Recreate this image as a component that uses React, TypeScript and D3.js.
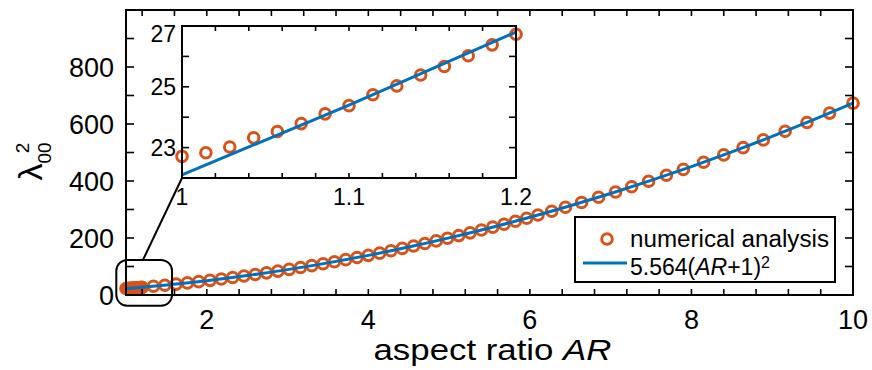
import React, { useEffect, useRef } from 'react';
import * as d3 from 'd3';

// numerical analysis, fine sweep near AR = 1 (shown in the inset)
const AR_INSET = [1, 1.0143, 1.0286, 1.0429, 1.0571, 1.0714, 1.0857, 1.1, 1.1143, 1.1286, 1.1429, 1.1571, 1.1714, 1.1857, 1.2];
const L_INSET = [22.71, 22.83, 23.02, 23.32, 23.53, 23.79, 24.11, 24.38, 24.74, 25.03, 25.39, 25.67, 26.02, 26.38, 26.73];

// numerical analysis, coarse sweep
const AR_MAIN = [1.34, 1.48, 1.62, 1.76, 1.9, 2.04, 2.18, 2.32, 2.46, 2.6, 2.74, 2.88, 3.02, 3.16, 3.3, 3.44, 3.58, 3.72, 3.86, 4.0,
  4.14, 4.28, 4.42, 4.56, 4.7, 4.84, 4.98, 5.12, 5.26, 5.4, 5.54, 5.68, 5.82, 5.96, 6.1, 6.27, 6.44, 6.64, 6.85, 7.06,
  7.26, 7.47, 7.69, 7.9, 8.15, 8.4, 8.64, 8.89, 9.16, 9.43, 9.71, 10];
const L_MAIN = [30.5, 34.3, 38.2, 42.4, 46.8, 51.4, 56.3, 61.3, 66.6, 72.1, 77.8, 83.8, 89.9, 96.3, 102.9, 109.7, 116.7, 124, 131.4, 139.1,
  147, 155.1, 163.5, 172, 180.8, 189.8, 199, 208.4, 218, 227.9, 238, 248.3, 258.8, 269.5, 280.5, 294, 308, 324.8, 342.9, 361.5,
  379.6, 399.2, 420.2, 440.7, 465.8, 491.6, 517.1, 544.2, 574.4, 605.3, 638.2, 673.2];

// fitted curve 5.564(AR+1)^2
const FIT_AR = [1, 1.1, 1.2, 1.5, 2, 2.5, 3, 3.5, 4, 4.5, 5, 5.5, 6, 6.5, 7, 7.5, 8, 8.5, 9, 9.5, 10];
const FIT_L = [22.1, 24.4, 26.8, 34.8, 50.1, 68.2, 89.0, 112.7, 139.1, 168.3, 200.3, 235.1, 272.6, 313.0, 356.1, 402.0, 450.7, 502.2, 556.4, 613.5, 673.2];

// axis ticks
const X_MAJOR = [2, 4, 6, 8, 10];
const Y_MAJOR = [0, 200, 400, 600, 800];
const XI_MAJOR = [1, 1.1, 1.2];
const YI_MAJOR = [23, 25, 27];

// zoom box around the inset region (data units) and where the connector leaves it
const ZOOM_AR = [0.88, 1.57];
const ZOOM_L = [-38, 123];
const LINK_AR = 1.21;

const ORANGE = '#D95319';
const BLUE = '#0072BD';
const FONT = '"Liberation Sans", Arial, Helvetica, sans-serif';
const MARK_R = 5.3;
const MARK_W = 3;

type Pt = { ar: number; l: number };

export default function App() {
  const svgRef = useRef<SVGSVGElement>(null);

  useEffect(() => {
    if (!svgRef.current) return;
    const svg = d3.select(svgRef.current);
    svg.selectAll('*').remove();

    const numerical: Pt[] = AR_INSET.map((ar, i) => ({ ar, l: L_INSET[i] }))
      .concat(AR_MAIN.map((ar, i) => ({ ar, l: L_MAIN[i] })));
    const fit: Pt[] = FIT_AR.map((ar, i) => ({ ar, l: FIT_L[i] }));
    const insetPts: Pt[] = AR_INSET.map((ar, i) => ({ ar, l: L_INSET[i] }));
    const insetFit = fit.filter(d => d.ar <= 1.2);

    const x = d3.scaleLinear().domain([1, 10]).range([126, 853]);
    const y = d3.scaleLinear().domain([0, 1000]).range([295, 10]);
    const xi = d3.scaleLinear().domain([1, 1.2]).range([182, 516]);
    const yi = d3.scaleLinear().domain([22, 27]).range([178, 26]);

    // ---- main axes ----
    const g = svg.append('g');

    g.selectAll('circle.num')
      .data(numerical)
      .join('circle')
      .attr('class', 'num')
      .attr('cx', d => x(d.ar))
      .attr('cy', d => y(d.l))
      .attr('r', MARK_R)
      .attr('fill', 'none')
      .attr('stroke', ORANGE)
      .attr('stroke-width', MARK_W);

    const line = d3.line<Pt>()
      .x(d => x(d.ar))
      .y(d => y(d.l))
      .curve(d3.curveMonotoneX);

    g.append('path')
      .datum(fit)
      .attr('fill', 'none')
      .attr('stroke', BLUE)
      .attr('stroke-width', 3)
      .attr('d', line);

    // frame
    g.append('rect')
      .attr('x', x(1)).attr('y', y(1000))
      .attr('width', x(10) - x(1)).attr('height', y(0) - y(1000))
      .attr('fill', 'none').attr('stroke', '#000').attr('stroke-width', 2);

    const xTicks = d3.range(1.2, 10.01, 0.4);
    const yTicks = d3.range(100, 1000, 100);
    xTicks.forEach(t => {
      g.append('line').attr('x1', x(t)).attr('x2', x(t)).attr('y1', y(0)).attr('y2', y(0) - 6)
        .attr('stroke', '#000').attr('stroke-width', 1.6);
      g.append('line').attr('x1', x(t)).attr('x2', x(t)).attr('y1', y(1000)).attr('y2', y(1000) + 6)
        .attr('stroke', '#000').attr('stroke-width', 1.6);
    });
    yTicks.forEach(t => {
      g.append('line').attr('x1', x(1)).attr('x2', x(1) + 8).attr('y1', y(t)).attr('y2', y(t))
        .attr('stroke', '#000').attr('stroke-width', 1.6);
      g.append('line').attr('x1', x(10)).attr('x2', x(10) - 8).attr('y1', y(t)).attr('y2', y(t))
        .attr('stroke', '#000').attr('stroke-width', 1.6);
    });

    X_MAJOR.forEach(t => {
      g.append('text')
        .attr('x', x(t)).attr('y', y(0) + 34)
        .attr('text-anchor', 'middle')
        .attr('font-family', FONT).attr('font-size', 27)
        .text(String(t));
    });
    Y_MAJOR.forEach(t => {
      g.append('text')
        .attr('x', x(1) - 12).attr('y', y(t) + 9.5)
        .attr('text-anchor', 'end')
        .attr('font-family', FONT).attr('font-size', 27)
        .text(String(t));
    });

    // x label
    const xl = g.append('text')
      .attr('x', (x(1) + x(10)) / 2 + 3).attr('y', 360)
      .attr('text-anchor', 'middle')
      .attr('font-family', FONT).attr('font-size', 30)
      .attr('textLength', 238).attr('lengthAdjust', 'spacingAndGlyphs');
    xl.append('tspan').text('aspect ratio ');
    xl.append('tspan').attr('font-style', 'italic').text('AR');

    // y label
    const yl = g.append('text')
      .attr('transform', `translate(42,${(y(0) + y(1000)) / 2 + 28}) rotate(-90)`)
      .attr('font-family', FONT).attr('font-size', 34);
    yl.append('tspan').text('λ');
    yl.append('tspan').attr('font-size', 19).attr('dy', 9).text('00');
    yl.append('tspan').attr('font-size', 19).attr('dx', -11).attr('dy', -22).text('2');

    // zoom box + connector
    g.append('rect')
      .attr('x', x(ZOOM_AR[0])).attr('y', y(ZOOM_L[1]))
      .attr('width', x(ZOOM_AR[1]) - x(ZOOM_AR[0]))
      .attr('height', y(ZOOM_L[0]) - y(ZOOM_L[1]))
      .attr('rx', 11).attr('ry', 11)
      .attr('fill', 'none').attr('stroke', '#000').attr('stroke-width', 2);

    g.append('line')
      .attr('x1', x(LINK_AR)).attr('y1', y(ZOOM_L[1]))
      .attr('x2', xi(1)).attr('y2', yi(22))
      .attr('stroke', '#000').attr('stroke-width', 2);

    // ---- inset ----
    const gi = svg.append('g');
    gi.append('rect')
      .attr('x', xi(1)).attr('y', yi(27))
      .attr('width', xi(1.2) - xi(1)).attr('height', yi(22) - yi(27))
      .attr('fill', '#fff');

    gi.selectAll('circle.ins')
      .data(insetPts)
      .join('circle')
      .attr('class', 'ins')
      .attr('cx', d => xi(d.ar))
      .attr('cy', d => yi(d.l))
      .attr('r', MARK_R)
      .attr('fill', 'none')
      .attr('stroke', ORANGE)
      .attr('stroke-width', MARK_W);

    gi.append('path')
      .datum(insetFit)
      .attr('fill', 'none')
      .attr('stroke', BLUE)
      .attr('stroke-width', 3)
      .attr('d', d3.line<Pt>().x(d => xi(d.ar)).y(d => yi(d.l)));

    gi.append('rect')
      .attr('x', xi(1)).attr('y', yi(27))
      .attr('width', xi(1.2) - xi(1)).attr('height', yi(22) - yi(27))
      .attr('fill', 'none').attr('stroke', '#000').attr('stroke-width', 2);

    d3.range(1.02, 1.2, 0.02).forEach(t => {
      gi.append('line').attr('x1', xi(t)).attr('x2', xi(t)).attr('y1', yi(22)).attr('y2', yi(22) - 5)
        .attr('stroke', '#000').attr('stroke-width', 1.6);
      gi.append('line').attr('x1', xi(t)).attr('x2', xi(t)).attr('y1', yi(27)).attr('y2', yi(27) + 5)
        .attr('stroke', '#000').attr('stroke-width', 1.6);
    });
    [23, 24, 25, 26].forEach(t => {
      gi.append('line').attr('x1', xi(1)).attr('x2', xi(1) + 7).attr('y1', yi(t)).attr('y2', yi(t))
        .attr('stroke', '#000').attr('stroke-width', 1.6);
      gi.append('line').attr('x1', xi(1.2)).attr('x2', xi(1.2) - 7).attr('y1', yi(t)).attr('y2', yi(t))
        .attr('stroke', '#000').attr('stroke-width', 1.6);
    });

    XI_MAJOR.forEach(t => {
      gi.append('text')
        .attr('x', xi(t)).attr('y', yi(22) + 27)
        .attr('text-anchor', 'middle')
        .attr('font-family', FONT).attr('font-size', 23)
        .text(String(t));
    });
    YI_MAJOR.forEach(t => {
      gi.append('text')
        .attr('x', xi(1) - 6).attr('y', yi(t) + (t === 27 ? 16 : 8))
        .attr('text-anchor', 'end')
        .attr('font-family', FONT).attr('font-size', 23)
        .text(String(t));
    });

    // ---- legend ----
    const lg = svg.append('g');
    lg.append('rect')
      .attr('x', 575).attr('y', 217).attr('width', 260).attr('height', 65)
      .attr('fill', '#fff').attr('stroke', '#000').attr('stroke-width', 2);
    lg.append('circle')
      .attr('cx', 607).attr('cy', 239).attr('r', MARK_R)
      .attr('fill', 'none').attr('stroke', ORANGE).attr('stroke-width', MARK_W);
    lg.append('text')
      .attr('x', 630).attr('y', 247)
      .attr('font-family', FONT).attr('font-size', 23)
      .attr('textLength', 199).attr('lengthAdjust', 'spacingAndGlyphs')
      .text('numerical analysis');
    lg.append('line')
      .attr('x1', 583).attr('x2', 627).attr('y1', 263).attr('y2', 263)
      .attr('stroke', BLUE).attr('stroke-width', 3);
    const t2 = lg.append('text')
      .attr('x', 630).attr('y', 275)
      .attr('font-family', FONT).attr('font-size', 23);
    t2.append('tspan').text('5.564(');
    t2.append('tspan').attr('font-style', 'italic').text('AR');
    t2.append('tspan').text('+1)');
    t2.append('tspan').attr('font-size', 16).attr('dy', -7).text('2');
  }, []);

  return (
    <svg
      ref={svgRef}
      width={872}
      height={370}
      style={{ position: 'absolute', left: 0, top: 0, display: 'block', background: '#fff' }}
    />
  );
}
